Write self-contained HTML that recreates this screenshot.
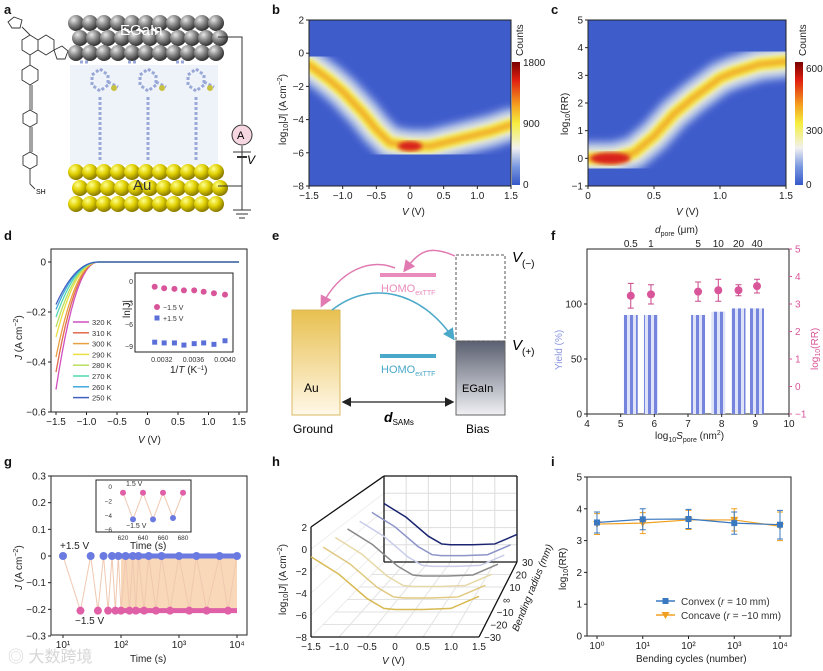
<!DOCTYPE html>
<html><head><meta charset="utf-8">
<style>
html,body{margin:0;padding:0;background:#fff;}
svg{display:block;font-family:"Liberation Sans","Noto Sans CJK SC",sans-serif;}
.t{font-size:10px;fill:#222;}
.pl{font-size:13px;font-weight:bold;fill:#111;}
</style></head>
<body>
<svg id="fig" width="823" height="671" viewBox="0 0 823 671">
<defs>
<radialGradient id="gsph" cx="35%" cy="30%" r="70%"><stop offset="0" stop-color="#e8e8e8"/><stop offset="0.5" stop-color="#888"/><stop offset="1" stop-color="#333"/></radialGradient>
<radialGradient id="ysph" cx="35%" cy="30%" r="70%"><stop offset="0" stop-color="#ffff90"/><stop offset="0.5" stop-color="#e0d000"/><stop offset="1" stop-color="#8a7a00"/></radialGradient>
<linearGradient id="cbar" x1="0" y1="0" x2="0" y2="1"><stop offset="0" stop-color="#7a0000"/><stop offset="0.15" stop-color="#e02010"/><stop offset="0.35" stop-color="#f5a020"/><stop offset="0.5" stop-color="#f5ef40"/><stop offset="0.7" stop-color="#f0f0f0"/><stop offset="0.85" stop-color="#7a98e0"/><stop offset="1" stop-color="#3558c8"/></linearGradient>
<linearGradient id="aug" x1="0" y1="0" x2="0" y2="1"><stop offset="0" stop-color="#e8c050"/><stop offset="1" stop-color="#fff8e8"/></linearGradient>
<linearGradient id="egg" x1="0" y1="0" x2="0" y2="1"><stop offset="0" stop-color="#5a6070"/><stop offset="1" stop-color="#f0f0f4"/></linearGradient>
<pattern id="stripe" width="6" height="4" patternUnits="userSpaceOnUse"><rect width="6" height="4" fill="#dfe3f8"/><rect width="3" height="4" fill="#7584dc"/></pattern>
<filter id="blur4"><feGaussianBlur stdDeviation="4"/></filter>
<filter id="blur2"><feGaussianBlur stdDeviation="2"/></filter>
<clipPath id="clipb"><rect x="309" y="20" width="202" height="166"/></clipPath>
<clipPath id="clipc"><rect x="588" y="20" width="198" height="166"/></clipPath>
<marker id="arrB" markerWidth="8" markerHeight="8" refX="6" refY="4" orient="auto"><path d="M0,0 L8,4 L0,8 z" fill="#4aa8c8"/></marker>
<marker id="arrP" markerWidth="8" markerHeight="8" refX="6" refY="4" orient="auto"><path d="M0,0 L8,4 L0,8 z" fill="#e07ab0"/></marker>
<marker id="arrK" markerWidth="8" markerHeight="8" refX="6" refY="4" orient="auto"><path d="M0,0 L8,4 L0,8 z" fill="#222"/></marker>
<marker id="arrK2" markerWidth="8" markerHeight="8" refX="2" refY="4" orient="auto"><path d="M8,0 L0,4 L8,8 z" fill="#222"/></marker>
</defs>

<text class="pl" x="4" y="14">a</text>
<text class="pl" x="272" y="14">b</text>
<text class="pl" x="551" y="14">c</text>
<text class="pl" x="4" y="240">d</text>
<text class="pl" x="272" y="240">e</text>
<text class="pl" x="551" y="240">f</text>
<text class="pl" x="4" y="466">g</text>
<text class="pl" x="272" y="466">h</text>
<text class="pl" x="551" y="466">i</text>

<g id="pa">
<rect x="70" y="65" width="148" height="100" fill="#eef3fa"/>
<g id="egainSph"></g>
<g id="auSph"></g>
<text x="120" y="35" font-size="15" fill="#fff">EGaIn</text>
<text x="133" y="190" font-size="15" fill="#333">Au</text>
<g id="mols"></g>
<path d="M218,37 H242 V124 M242,146 V210 M218,186 H242 M233,210 H251 M236,214 H248 M239,218 H245" stroke="#333" fill="none"/>
<line x1="233" y1="152" x2="251" y2="152" stroke="#333"/>
<line x1="237" y1="157" x2="247" y2="157" stroke="#333" stroke-width="2"/>
<circle cx="242" cy="135" r="10" fill="#f6d6e0" stroke="#333"/>
<text x="237" y="139" font-size="11">A</text>
<text x="247" y="164" font-size="12" font-style="italic">V</text>
<g stroke="#333" fill="none" stroke-width="0.9">
<path d="M22,40 l8,-5 l8,5 v10 l-8,5 l-8,-5 z M38,40 l8,-5 l8,5 v10 l-8,5 l-8,-5z M30,55 v10 M30,65 l-8,5 v10 l8,5 l8,-5 v-10 l-8,-5 M30,85 v25 M32,85 v25 M30,110 l-7,4 v9 l7,4 l7,-4 v-9z M30,127 v25 M32,127 v25 M30,152 l-7,4 v9 l7,4 l7,-4 v-9z M30,169 v15 l5,5 M30,35 l-8,-8 M8,22 l6,-5 l8,3 l-2,8 l-8,0z M54,50 l8,-4 l6,5 l-3,8 l-8,0z"/>
</g>
<text x="36" y="194" font-size="7">SH</text>
</g>

<g id="pb">
<rect x="309" y="20" width="202" height="166" fill="#3f5ccb"/>
<g id="bandB" clip-path="url(#clipb)"></g>
<rect x="309" y="20" width="202" height="166" fill="none" stroke="#222"/>
<g id="axB"></g>
<rect x="512" y="62" width="8" height="123" fill="url(#cbar)"/>
<text class="t" x="523" y="66">1800</text>
<text class="t" x="523" y="127">900</text>
<text class="t" x="523" y="188">0</text>
<text class="t" transform="translate(523,56) rotate(-90)">Counts</text>
<text class="t" x="402" y="215" font-size="11"><tspan font-style="italic">V</tspan> (V)</text>
<text class="t" transform="translate(286,145) rotate(-90)">log<tspan font-size="7" dy="2">10</tspan><tspan dy="-2">|</tspan><tspan font-style="italic">J</tspan>| (A cm<tspan font-size="7" dy="-4">−2</tspan><tspan dy="4">)</tspan></text>
</g>

<g id="pc">
<rect x="588" y="20" width="198" height="166" fill="#3f5ccb"/>
<g id="bandC" clip-path="url(#clipc)"></g>
<rect x="588" y="20" width="198" height="166" fill="none" stroke="#222"/>
<g id="axC"></g>
<rect x="795" y="62" width="8" height="123" fill="url(#cbar)"/>
<text class="t" x="806" y="72">600</text>
<text class="t" x="806" y="134">300</text>
<text class="t" x="806" y="188">0</text>
<text class="t" transform="translate(806,56) rotate(-90)">Counts</text>
<text class="t" x="676" y="215" font-size="11"><tspan font-style="italic">V</tspan> (V)</text>
<text class="t" transform="translate(568,135) rotate(-90)">log<tspan font-size="7" dy="2">10</tspan><tspan dy="-2">(RR)</tspan></text>
</g>

<g id="pd">
<rect x="51" y="249" width="196" height="163" fill="none" stroke="#222"/>
<g id="curvesD"></g>
<g id="axD"></g>
<g id="legD"></g>
<rect x="135" y="273" width="98" height="79" fill="#fff" stroke="#222"/>
<g id="insetD"></g>
<text class="t" x="170" y="373" font-size="8">1/<tspan font-style="italic">T</tspan> (K<tspan font-size="6" dy="-3">−1</tspan><tspan dy="3">)</tspan></text>
<text class="t" transform="translate(130,318) rotate(-90)" font-size="8">ln|J|</text>
<text class="t" x="138" y="443" font-size="11"><tspan font-style="italic">V</tspan> (V)</text>
<text class="t" transform="translate(22,360) rotate(-90)"><tspan font-style="italic">J</tspan> (A cm<tspan font-size="7" dy="-4">−2</tspan><tspan dy="4">)</tspan></text>
</g>

<g id="pe">
<rect x="292" y="310" width="48" height="105" fill="url(#aug)" stroke="#d8b860"/>
<rect x="456" y="341" width="49" height="74" fill="url(#egg)" stroke="#666"/>
<rect x="456" y="255" width="49" height="86" fill="none" stroke="#555" stroke-dasharray="3,2"/>
<line x1="380" y1="275" x2="436" y2="275" stroke="#e98cbd" stroke-width="4"/>
<line x1="380" y1="356" x2="436" y2="356" stroke="#4aa8c8" stroke-width="4"/>
<text x="381" y="292" font-size="11" fill="#e98cbd">HOMO<tspan font-size="7" dy="3">exTTF</tspan></text>
<text x="381" y="373" font-size="11" fill="#4aa8c8">HOMO<tspan font-size="7" dy="3">exTTF</tspan></text>
<path d="M455,256 C430,245 420,250 405,270" stroke="#e07ab0" fill="none" stroke-width="1.5" marker-end="url(#arrP)"/>
<path d="M395,268 C370,258 340,270 322,305" stroke="#e07ab0" fill="none" stroke-width="1.5" marker-end="url(#arrP)"/>
<path d="M332,310 C370,280 420,290 453,338" stroke="#4aa8c8" fill="none" stroke-width="1.5" marker-end="url(#arrB)"/>
<line x1="344" y1="402" x2="452" y2="402" stroke="#222" stroke-width="1.2" marker-end="url(#arrK)" marker-start="url(#arrK2)"/>
<text x="304" y="392" font-size="12">Au</text>
<text x="462" y="392" font-size="11">EGaIn</text>
<text x="293" y="433" font-size="12">Ground</text>
<text x="466" y="433" font-size="12">Bias</text>
<text x="384" y="422" font-size="14" font-weight="bold" font-style="italic">d<tspan font-size="8" font-style="normal" font-weight="normal" dy="3">SAMs</tspan></text>
<text x="512" y="262" font-size="15" font-style="italic">V<tspan font-size="10" font-style="normal" dy="5">(−)</tspan></text>
<text x="512" y="350" font-size="15" font-style="italic">V<tspan font-size="10" font-style="normal" dy="5">(+)</tspan></text>
</g>

<g id="pf">
<rect x="587" y="249" width="202" height="165" fill="none" stroke="#222"/>
<g id="barsF"></g>
<g id="axF"></g>
<text class="t" x="655" y="233" font-size="10"><tspan font-style="italic">d</tspan><tspan font-size="7" dy="3">pore</tspan><tspan dy="-3"> (μm)</tspan></text>
<text class="t" x="655" y="439" font-size="10">log<tspan font-size="7" dy="3">10</tspan><tspan font-style="italic" dy="-3">S</tspan><tspan font-size="7" dy="3">pore</tspan><tspan dy="-3"> (nm</tspan><tspan font-size="7" dy="-4">2</tspan><tspan dy="4">)</tspan></text>
<text transform="translate(562,370) rotate(-90)" font-size="10" fill="#8c98e0">Yield (%)</text>
<text transform="translate(818,370) rotate(-90)" font-size="10" fill="#d8559a">log<tspan font-size="7" dy="2">10</tspan><tspan dy="-2">(RR)</tspan></text>
</g>

<g id="pg">
<rect x="51" y="476" width="196" height="159" fill="none" stroke="#222"/>
<g id="plotG"></g>
<g id="axG"></g>
<text class="t" x="60" y="549" font-size="10">+1.5 V</text>
<text class="t" x="75" y="624" font-size="10">−1.5 V</text>
<rect x="96" y="480" width="95" height="52" fill="#fff" stroke="#222"/>
<g id="insetG"></g>
<text class="t" x="130" y="549" font-size="8">Time (s)</text>
<text class="t" x="130" y="662" font-size="11">Time (s)</text>
<text class="t" transform="translate(22,590) rotate(-90)"><tspan font-style="italic">J</tspan> (A cm<tspan font-size="7" dy="-4">−2</tspan><tspan dy="4">)</tspan></text>
<text x="8" y="662" font-size="16" fill="#ccc" opacity="0.8">◎ 大数跨境</text>
</g>

<g id="ph">
<g id="plotH"></g>
<text class="t" x="382" y="664" font-size="11"><tspan font-style="italic">V</tspan> (V)</text>
<text class="t" transform="translate(286,615) rotate(-90)">log<tspan font-size="7" dy="2">10</tspan><tspan dy="-2">|</tspan><tspan font-style="italic">J</tspan>| (A cm<tspan font-size="7" dy="-4">−2</tspan><tspan dy="4">)</tspan></text>
<text class="t" transform="translate(518,632) rotate(-68)" font-size="9" font-style="italic">Bending radius (mm)</text>
</g>

<g id="pi">
<rect x="587" y="477" width="204" height="159" fill="none" stroke="#222"/>
<g id="plotI"></g>
<g id="axI"></g>
<text class="t" x="636" y="662" font-size="10">Bending cycles (number)</text>
<text class="t" transform="translate(566,590) rotate(-90)">log<tspan font-size="7" dy="2">10</tspan><tspan dy="-2">(RR)</tspan></text>
</g>
</svg>

<script>
const NS='http://www.w3.org/2000/svg';
function mk(tag,attrs,parent){const e=document.createElementNS(NS,tag);for(const k in attrs)e.setAttribute(k,attrs[k]);parent.appendChild(e);return e;}
const $=id=>document.getElementById(id);

const bV=[-1.5,-1.2,-1.0,-0.7,-0.5,-0.3,0,0.3,0.5,0.8,1.0,1.2,1.5];
const bLogJ=[-0.7,-1.6,-2.3,-3.6,-4.6,-5.4,-5.6,-5.6,-5.4,-5.1,-4.9,-4.7,-4.3];
const bTicksX=[-1.5,-1.0,-0.5,0,0.5,1.0,1.5];
const bTicksY=[2,0,-2,-4,-6,-8];
const cV=[0,0.1,0.2,0.35,0.5,0.65,0.8,1.0,1.1,1.3,1.5];
const cLogRR=[0,0,0,0.2,0.8,1.6,2.2,2.9,3.1,3.4,3.5];
const cTicksX=[0,0.5,1.0,1.5];
const cTicksY=[5,4,3,2,1,0,-1];
const dTemps=['320 K','310 K','300 K','290 K','280 K','270 K','260 K','250 K'];
const dJmin=[-0.51,-0.44,-0.38,-0.30,-0.26,-0.22,-0.19,-0.17];
const dColors=['#d04fc0','#e06a4a','#e8a040','#e8e040','#b8e060','#50d8b0','#40a8e0','#4060c0'];
const dTicksX=[-1.5,-1.0,-0.5,0,0.5,1.0,1.5];
const dTicksY=[0,-0.2,-0.4,-0.6];
const dInvT=[0.00311,0.00323,0.00336,0.00348,0.00361,0.00373,0.00386,0.00400];
const dLnNeg=[-0.8,-1.0,-1.1,-1.3,-1.3,-1.5,-1.7,-1.9];
const dLnPos=[-8.5,-8.6,-8.6,-8.9,-8.7,-8.6,-8.8,-8.3];
const fS=[5.3,5.9,7.3,7.9,8.5,9.05];
const fYield=[90,90,90,93,96,96];
const fRR=[3.3,3.35,3.45,3.5,3.5,3.65];
const fErr=[0.45,0.35,0.35,0.4,0.2,0.25];
const fDpore=['0.5','1','5','10','20','40'];
const fTicksX=[4,5,6,7,8,9,10];
const fTicksL=[0,50,100];
const fTicksR=[-1,0,1,2,3,4,5];
const gTimes=[10,20,30,40,50,60,70,80,90,100,120,140,160,180,200,250,300,400,500,700,1000,1500,2000,3000,5000,7000,10000];
const gHigh=0.0;
const gLow=-0.205;
const gInT=[620,630,640,650,660,670,680];
const gInJ=[-0.8,-4.5,-0.8,-4.5,-0.8,-4.3,-0.8];
const iCycles=[0,1,2,3,4];
const iConvex=[3.57,3.67,3.68,3.55,3.5];
const iConcave=[3.52,3.55,3.65,3.65,3.45];
const iErr=[0.33,0.33,0.3,0.35,0.45];
const hRadii=[-30,-20,-10,0,10,20,30];
const hOffset=[-5.5,-5.5,-5.5,-5.6,-5.8,-5.9,-6.0];
const hColors=['#d8b850','#e0c880','#e6d8a8','#8a8a8a','#c8cce8','#8c94c8','#1a2470'];
const hV=[-1.5,-1.0,-0.5,-0.2,0,0.5,1.0,1.5];
const hShape=[4.8,3.2,1.0,0.1,0,0,0.1,1.2];

(function(){
 const eg=$('egainSph'),au=$('auSph');
 for(let r=0;r<3;r++)for(let i=0;i<11;i++){
  const c=mk('circle',{cx:76+i*14+(r%2)*4,cy:23+r*15,r:8,fill:'url(#gsph)'},eg);
  
  
 }
 for(let r=0;r<3;r++)for(let i=0;i<11;i++){
  const c=mk('circle',{cx:76+i*14+(r%2)*4,cy:172+r*16,r:8,fill:'url(#ysph)'},au);
  
  
 }
 const m=$('mols');
 for(let k=0;k<3;k++){
  const x=100+k*48;
  const p=mk('path',{d:`M${x},160 V95 M${x-8},75 l8,-6 l8,6 v10 l-8,6 l-8,-6z M${x-20},62 h10 M${x+8},82 l10,5`,stroke:'#9aa8d8','stroke-width':3,fill:'none','stroke-dasharray':'3,2'},m);
  
  
  const s=mk('circle',{cx:x+14,cy:88,r:3,fill:'#c8c040'},m);
  
  
 }
})();

function axes(g,ticksX,fx,y0,ticksY,fy,x0,fmtX,fmtY){
 ticksX.forEach(v=>{const x=fx(v);
  const l=mk('line',{x1:x,y1:y0,x2:x,y2:y0+3,stroke:'#222'},g);
  
  
  const t=mk('text',{x:x,y:y0+13,'text-anchor':'middle',class:'t'},g);
  t.textContent=fmtX?fmtX(v):String(v).replace('-','−');
  
  
 });
 ticksY.forEach(v=>{const y=fy(v);
  const l=mk('line',{x1:x0-3,y1:y,x2:x0,y2:y,stroke:'#222'},g);
  
  
  const t=mk('text',{x:x0-5,y:y+3.5,'text-anchor':'end',class:'t'},g);
  t.textContent=fmtY?fmtY(v):String(v).replace('-','−');
  
  
 });
}
const f1=v=>v===0?'0':v.toFixed(1).replace('-','−');

const xb=v=>309+(v+1.5)/3*202, yb=j=>186-(j+8)/10*166;
function band(g,xs,ys,fx,fy,hot){
 const d='M'+xs.map((v,i)=>fx(v)+','+fy(ys[i])).join(' L');
 [['#a8bcec',34,'blur4',0.9],['#eef0dc',22,'blur4',1],['#f5e642',12,'blur2',1],['#f0a428',5,'blur2',0.9]].forEach(s=>{
  const p=mk('path',{d:d,stroke:s[0],'stroke-width':s[1],fill:'none',filter:'url(#'+s[2]+')',opacity:s[3],'stroke-linejoin':'round','stroke-linecap':'round'},g);
  
  
 });
 const e=mk('ellipse',{cx:fx(hot[0]),cy:fy(hot[1]),rx:hot[2],ry:hot[3],fill:'#d8201a',filter:'url(#blur2)'},g);
 
 
}
band($('bandB'),bV,bLogJ,xb,yb,[0,-5.6,12,5]);
axes($('axB'),bTicksX,xb,186,bTicksY,yb,309,f1,null);
const xc=v=>588+v/1.5*198, yc=r=>186-(r+1)/6*166;
band($('bandC'),cV,cLogRR,xc,yc,[0.17,0,20,6]);
axes($('axC'),cTicksX,xc,186,cTicksY,yc,588,f1,null);

// panel d
const xd=v=>56+(v+1.5)/3*183, yd=J=>262-J*250;
dJmin.forEach((jm,i)=>{
 const pts=[];
 for(let v=-1.5;v<=1.5001;v+=0.05){const J=v<-0.8?jm*Math.pow((-0.8-v)/0.7,2.2):0;pts.push(xd(v)+','+yd(J));}
 const p=mk('polyline',{points:pts.join(' '),stroke:dColors[i],fill:'none','stroke-width':1.3},$('curvesD'));
 
 
 const ly=322+i*10.8;
 const l=mk('line',{x1:73,y1:ly,x2:89,y2:ly,stroke:dColors[i],'stroke-width':1.5},$('legD'));
 
 
 const t=mk('text',{x:92,y:ly+3,'font-size':7.5,fill:'#333'},$('legD'));
 t.textContent=dTemps[i];
 
 
});
axes($('axD'),dTicksX,xd,412,dTicksY,yd,51,f1,f1);
(function(){
 const g=$('insetD'),xi=v=>146+(v-0.003)/0.0010*79,yi=v=>281-v*7.2;
 [0.0032,0.0036,0.0040].forEach(v=>{const t=mk('text',{x:xi(v),y:362,'text-anchor':'middle','font-size':7,fill:'#333'},g);t.textContent=v.toFixed(4);
  
  });
 [0,-3,-6,-9].forEach(v=>{const t=mk('text',{x:133,y:yi(v)+3,'text-anchor':'end','font-size':7,fill:'#333'},g);t.textContent=String(v).replace('-','−');
  
  });
 dInvT.forEach((v,i)=>{
  const c=mk('circle',{cx:xi(v),cy:yi(dLnNeg[i]),r:3,fill:'#d8559a'},g);
  
  
  const r=mk('rect',{x:xi(v)-2.5,y:yi(dLnPos[i])-2.5,width:5,height:5,fill:'#5a70d8'},g);
  
  
 });
 const c=mk('circle',{cx:157,cy:307,r:3,fill:'#d8559a'},g);
 const t1=mk('text',{x:163,y:310,'font-size':7,fill:'#333'},g);t1.textContent='−1.5 V';
 const r=mk('rect',{x:154.5,y:315.5,width:5,height:5,fill:'#5a70d8'},g);
 const t2=mk('text',{x:163,y:321,'font-size':7,fill:'#333'},g);t2.textContent='+1.5 V';
})();

// panel f
const xf=s=>587+(s-4)/6*202, yl=y=>414-y*1.1, yr=r=>414-(r+1)/6*165;
fS.forEach((s,i)=>{
 const b=mk('rect',{x:xf(s)-7,y:yl(fYield[i]),width:14,height:414-yl(fYield[i]),fill:'url(#stripe)'},$('barsF'));
 
 
 const e=mk('path',{d:`M${xf(s)},${yr(fRR[i]+fErr[i])} V${yr(fRR[i]-fErr[i])} M${xf(s)-3},${yr(fRR[i]+fErr[i])} h6 M${xf(s)-3},${yr(fRR[i]-fErr[i])} h6`,stroke:'#c8488a',fill:'none'},$('barsF'));
 
 
 const c=mk('circle',{cx:xf(s),cy:yr(fRR[i]),r:4,fill:'#d8559a'},$('barsF'));
 
 
 const t=mk('text',{x:xf(s),y:247,'text-anchor':'middle',class:'t'},$('axF'));
 t.textContent=fDpore[i];
 
 
});
axes($('axF'),fTicksX,xf,414,fTicksL,yl,587,null,null);
fTicksR.forEach(v=>{
 const l=mk('line',{x1:789,y1:yr(v),x2:792,y2:yr(v),stroke:'#d8559a'},$('axF'));
 
 
 const t=mk('text',{x:795,y:yr(v)+3.5,'font-size':10,fill:'#d8559a'},$('axF'));
 t.textContent=String(v).replace('-','−');
 
 
});

// panel g
const xg=t=>63+(Math.log10(t)-1)*58, yg=J=>556-J*266.7;
(function(){
 const g=$('plotG');
 const fill=mk('rect',{x:xg(100),y:yg(gHigh),width:xg(10000)-xg(100),height:yg(gLow)-yg(gHigh),fill:'#f8d8b8'},g);
 
 
 const pts=[];
 gTimes.forEach((t,i)=>{pts.push(xg(t)+','+yg(i%2?gLow:gHigh));});
 const zz=mk('polyline',{points:pts.join(' '),stroke:'#f0c8b0',fill:'none'},g);
 
 
 const hiLine=mk('line',{x1:xg(100),y1:yg(gHigh),x2:xg(10000),y2:yg(gHigh),stroke:'#6a7ae0','stroke-width':5},g);
 
 
 const loLine=mk('line',{x1:xg(100),y1:yg(gLow),x2:xg(10000),y2:yg(gLow),stroke:'#e060a8','stroke-width':5},g);
 
 
 gTimes.forEach((t,i)=>{
  const hi=i%2===0;
  const c=mk('circle',{cx:xg(t),cy:yg(hi?gHigh:gLow),r:4,fill:hi?'#6a7ae0':'#e060a8'},g);
  
  
 });
 axes($('axG'),[10,100,1000,10000],xg,635,[0.3,0.2,0.1,0,-0.1,-0.2,-0.3],yg,51,v=>'10'+['¹','²','³','⁴'][Math.log10(v)-1],f1);
 const gi=$('insetG'),xi=t=>123+(t-620),yi=v=>487-v*7.2;
 const ip=[];
 gInT.forEach((t,i)=>ip.push(xi(t)+','+yi(gInJ[i])));
 const il=mk('polyline',{points:ip.join(' '),stroke:'#f0c8b0',fill:'none'},gi);
 
 
 gInT.forEach((t,i)=>{
  const c=mk('circle',{cx:xi(t),cy:yi(gInJ[i]),r:3,fill:i%2?'#6a7ae0':'#e060a8'},gi);
  
  
 });
 [620,640,660,680].forEach(t=>{const tx=mk('text',{x:xi(t),y:540,'text-anchor':'middle','font-size':6.5,fill:'#333'},gi);tx.textContent=t;
  
  });
 [0,-2,-4,-6].forEach(v=>{const tx=mk('text',{x:112,y:yi(v)+2,'text-anchor':'end','font-size':6.5,fill:'#333'},gi);tx.textContent=String(v).replace('-','−');
  
  });
 const a=mk('text',{x:126,y:486,'font-size':7,fill:'#333'},gi);a.textContent='1.5 V';
 const b=mk('text',{x:126,y:528,'font-size':7,fill:'#333'},gi);b.textContent='−1.5 V';
})();

// panel h (3D)
(function(){
 const g=$('plotH');
 const P=(v,r,j)=>{const t=(r+30)/60;const left=311+73*t,base=637-75*t,w=168-35*t,h=110-24*t;return [left+(v+1.5)/3*w, base-(j+8)/10*h];};
 const line=(a,b,attrs,name)=>{const l=mk('line',Object.assign({x1:a[0],y1:a[1],x2:b[0],y2:b[1]},attrs),g);};
 [-1.5,-1,-0.5,0,0.5,1,1.5].forEach(v=>{line(P(v,-30,-8),P(v,30,-8),{stroke:'#e2e2e2'},'floor-grid');line(P(v,30,-8),P(v,30,2),{stroke:'#ddd'},'back-grid');});
 [-8,-6,-4,-2,0,2].forEach(j=>{line(P(-1.5,30,j),P(1.5,30,j),{stroke:'#ddd'},'back-grid');line(P(-1.5,-30,j),P(-1.5,30,j),{stroke:'#eee'},'side-grid');});
 [-30,-20,-10,0,10,20,30].forEach(r=>line(P(-1.5,r,-8),P(1.5,r,-8),{stroke:'#e2e2e2'},'floor-grid'));
 const k={stroke:'#111','stroke-width':1.3};
 line(P(-1.5,-30,-8),P(1.5,-30,-8),k,'x-axis');
 line(P(-1.5,-30,-8),P(-1.5,-30,2),k,'y-axis');
 line(P(1.5,-30,-8),P(1.5,30,-8),k,'z-axis');
 line(P(-1.5,-30,2),P(-1.5,30,2),k,'box-edge');
 line(P(-1.5,30,2),P(1.5,30,2),k,'box-edge');
 line(P(-1.5,30,2),P(-1.5,30,-8),k,'box-edge');
 line(P(1.5,30,2),P(1.5,30,-8),k,'box-edge');
 line(P(-1.5,30,-8),P(1.5,30,-8),k,'box-edge');
 hRadii.forEach((r,i)=>{
  const pts=hV.map((v,n)=>P(v,r,hOffset[i]+hShape[n]).join(',')).join(' ');
  const p=mk('polyline',{points:pts,stroke:hColors[i],fill:'none','stroke-width':1.5},g);
  
  
 });
 [-1.5,-1,-0.5,0,0.5,1,1.5].forEach(v=>{const q=P(v,-30,-8);const t=mk('text',{x:q[0],y:q[1]+13,'text-anchor':'middle',class:'t'},g);t.textContent=f1(v);
  
  });
 [-8,-6,-4,-2,0,2].forEach(j=>{const q=P(-1.5,-30,j);const t=mk('text',{x:q[0]-4,y:q[1]+4,'text-anchor':'end',class:'t'},g);t.textContent=String(j).replace('-','−');
  
  });
 [-30,-20,-10,0,10,20,30].forEach(r=>{const q=P(1.5,r,-8);const t=mk('text',{x:q[0]+5,y:q[1]+4,class:'t'},g);t.textContent=r===0?'∞':String(r).replace('-','−');
  
  });
})();

// panel i
const xi=k=>597+k*45.75, yi=r=>636-r*31.8;
(function(){
 const g=$('plotI');
 [[iConcave,'#f0a020','tri'],[iConvex,'#3a78c0','sq']].forEach(s=>{
  const p=mk('polyline',{points:iCycles.map((c,n)=>xi(c)+','+yi(s[0][n])).join(' '),stroke:s[1],fill:'none','stroke-width':1.2},g);
  
  
  iCycles.forEach((c,n)=>{
   const x=xi(c),y=yi(s[0][n]),e=iErr[n];
   const eb=mk('path',{d:`M${x},${yi(s[0][n]+e)} V${yi(s[0][n]-e)} M${x-3},${yi(s[0][n]+e)} h6 M${x-3},${yi(s[0][n]-e)} h6`,stroke:s[1],fill:'none'},g);
   
   
   const m=s[2]==='sq'?mk('rect',{x:x-3,y:y-3,width:6,height:6,fill:s[1]},g):mk('path',{d:`M${x-4},${y-3} h8 l-4,7z`,fill:s[1]},g);
   
   
  });
 });
 const l1=mk('line',{x1:656,y1:601,x2:675,y2:601,stroke:'#3a78c0','stroke-width':1.5},g);
 const m1=mk('rect',{x:662.5,y:598,width:6,height:6,fill:'#3a78c0'},g);
 const t1=mk('text',{x:681,y:605,'font-size':10,fill:'#333'},g);t1.innerHTML='Convex (<tspan font-style="italic">r</tspan> = 10 mm)';
 const l2=mk('line',{x1:656,y1:615,x2:675,y2:615,stroke:'#f0a020','stroke-width':1.5},g);
 const m2=mk('path',{d:'M661.5,612 h8 l-4,7z',fill:'#f0a020'},g);
 const t2=mk('text',{x:681,y:619,'font-size':10,fill:'#333'},g);t2.innerHTML='Concave (<tspan font-style="italic">r</tspan> = −10 mm)';
 axes($('axI'),iCycles,xi,636,[0,1,2,3,4,5],yi,587,v=>'10'+['⁰','¹','²','³','⁴'][v],null);
})();
</script>
</body></html>
